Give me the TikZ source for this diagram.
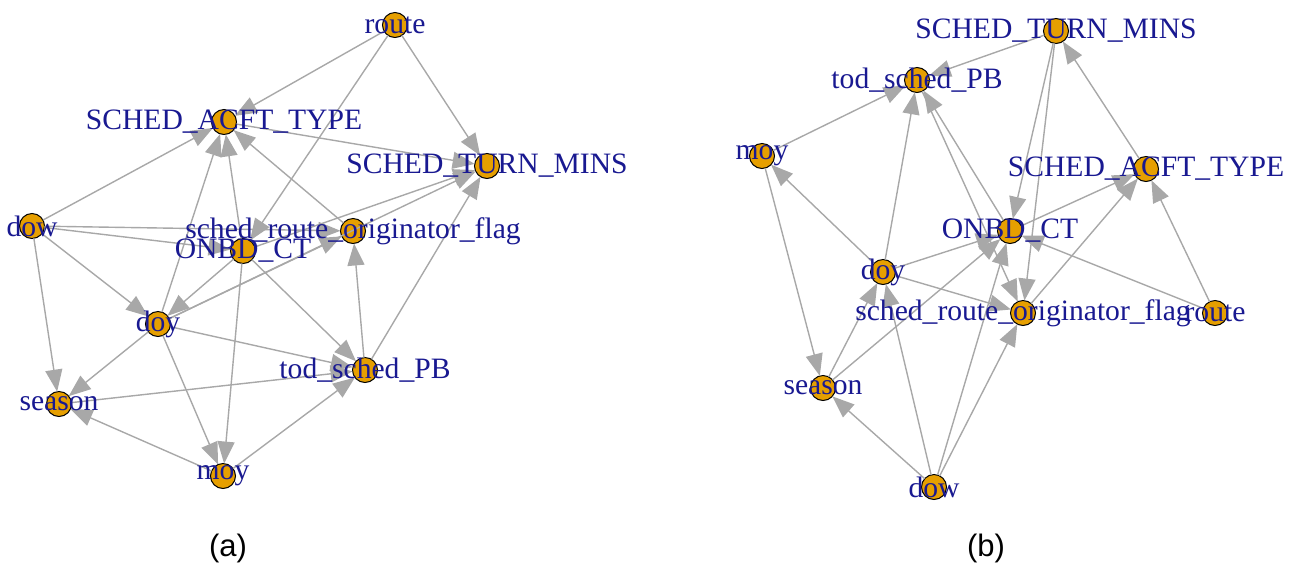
\documentclass[tikz,border=0pt]{standalone}
\usepackage{fontspec}
\setmainfont{Liberation Serif}
\newfontfamily\capfont{Liberation Sans}
\usetikzlibrary{arrows.meta}

\definecolor{vfill}{RGB}{230,159,0}
\definecolor{vlabel}{RGB}{25,25,145}
\definecolor{egray}{RGB}{168,168,168}

\begin{document}
\begin{tikzpicture}[x=0.5pt, y=-0.5pt,
  vertex/.style={
    circle,
    draw=black,
    fill=vfill,
    line width=0.5pt,
    minimum size=12.5pt,
    inner sep=0pt,
    outer sep=0pt
  },
  lbl/.style={text=vlabel, font=\fontsize{14.8}{16}\selectfont, inner sep=0pt},
  edge/.style={-{Triangle[length=11pt, width=8.5pt]}, draw=egray, line width=0.7pt},
  caption/.style={font=\capfont\fontsize{15.5}{18}\selectfont}
  ]

\useasboundingbox (0,0) rectangle (1308,580);

% Network (a)
\node[vertex] (a-route) at (395,25) {};
\node[vertex] (a-sat) at (224,122) {};
\node[vertex] (a-stm) at (487,166) {};
\node[vertex] (a-dow) at (32,226) {};
\node[vertex] (a-sched) at (353,231) {};
\node[vertex] (a-onbd) at (243,251) {};
\node[vertex] (a-doy) at (158,324) {};
\node[vertex] (a-tod) at (365,370) {};
\node[vertex] (a-season) at (59,404) {};
\node[vertex] (a-moy) at (223,476) {};

% Network (b)
\node[vertex] (b-stm) at (1056,31) {};
\node[vertex] (b-tod) at (917,80) {};
\node[vertex] (b-moy) at (762,156) {};
\node[vertex] (b-sat) at (1146,169) {};
\node[vertex] (b-onbd) at (1010,231) {};
\node[vertex] (b-doy) at (883,272) {};
\node[vertex] (b-sched) at (1023,313) {};
\node[vertex] (b-route) at (1215,313) {};
\node[vertex] (b-season) at (823,388) {};
\node[vertex] (b-dow) at (934,487) {};

% Arcs (a)
\draw[edge] (a-route) -- (a-sat);
\draw[edge] (a-route) -- (a-stm);
\draw[edge] (a-route) -- (a-onbd);
\draw[edge] (a-dow) -- (a-sat);
\draw[edge] (a-dow) -- (a-sched);
\draw[edge] (a-dow) -- (a-onbd);
\draw[edge] (a-dow) -- (a-doy);
\draw[edge] (a-dow) -- (a-season);
\draw[edge] (a-sat) -- (a-stm);
\draw[edge] (a-sched) -- (a-sat);
\draw[edge] (a-onbd) -- (a-sat);
\draw[edge] (a-doy) -- (a-sat);
\draw[edge] (a-onbd) -- (a-stm);
\draw[edge] (a-doy) -- (a-stm);
\draw[edge] (a-doy) -- (a-sched);
\draw[edge] (a-onbd) -- (a-doy);
\draw[edge] (a-onbd) -- (a-moy);
\draw[edge] (a-onbd) -- (a-tod);
\draw[edge] (a-doy) -- (a-tod);
\draw[edge] (a-doy) -- (a-season);
\draw[edge] (a-doy) -- (a-moy);
\draw[edge] (a-moy) -- (a-season);
\draw[edge] (a-moy) -- (a-tod);
\draw[edge] (a-season) -- (a-tod);
\draw[edge] (a-tod) -- (a-sched);
\draw[edge] (a-tod) -- (a-stm);

% Arcs (b)
\draw[edge] (b-stm) -- (b-tod);
\draw[edge] (b-stm) -- (b-onbd);
\draw[edge] (b-stm) -- (b-sched);
\draw[edge] (b-sat) -- (b-stm);
\draw[edge] (b-moy) -- (b-tod);
\draw[edge] (b-doy) -- (b-tod);
\draw[edge] (b-onbd) -- (b-tod);
\draw[edge] (b-tod) -- (b-sched);
\draw[edge] (b-doy) -- (b-moy);
\draw[edge] (b-moy) -- (b-season);
\draw[edge] (b-doy) -- (b-onbd);
\draw[edge] (b-doy) -- (b-sched);
\draw[edge] (b-onbd) -- (b-sat);
\draw[edge] (b-sched) -- (b-sat);
\draw[edge] (b-route) -- (b-sat);
\draw[edge] (b-route) -- (b-onbd);
\draw[edge] (b-season) -- (b-doy);
\draw[edge] (b-season) -- (b-onbd);
\draw[edge] (b-dow) -- (b-season);
\draw[edge] (b-dow) -- (b-doy);
\draw[edge] (b-dow) -- (b-onbd);
\draw[edge] (b-dow) -- (b-sched);

% Labels on top
\node[lbl] (a-route-l) at (a-route) {route};
\node[lbl] (a-sat-l) at (a-sat) {SCHED\_ACFT\_TYPE};
\node[lbl] (a-stm-l) at (a-stm) {SCHED\_TURN\_MINS};
\node[lbl] (a-dow-l) at (a-dow) {dow};
\node[lbl] (a-sched-l) at (a-sched) {sched\_route\_originator\_flag};
\node[lbl] (a-onbd-l) at (a-onbd) {ONBD\_CT};
\node[lbl] (a-doy-l) at (a-doy) {doy};
\node[lbl] (a-tod-l) at (a-tod) {tod\_sched\_PB};
\node[lbl] (a-season-l) at (a-season) {season};
\node[lbl] (a-moy-l) at (a-moy) {moy};

\node[lbl] (b-stm-l) at (b-stm) {SCHED\_TURN\_MINS};
\node[lbl] (b-tod-l) at (b-tod) {tod\_sched\_PB};
\node[lbl] (b-moy-l) at (b-moy) {moy};
\node[lbl] (b-sat-l) at (b-sat) {SCHED\_ACFT\_TYPE};
\node[lbl] (b-onbd-l) at (b-onbd) {ONBD\_CT};
\node[lbl] (b-doy-l) at (b-doy) {doy};
\node[lbl] (b-sched-l) at (b-sched) {sched\_route\_originator\_flag};
\node[lbl] (b-route-l) at (b-route) {route};
\node[lbl] (b-season-l) at (b-season) {season};
\node[lbl] (b-dow-l) at (b-dow) {dow};

% Captions
\node[caption] (cap-a) at (228,548) {(a)};
\node[caption] (cap-b) at (986,548) {(b)};

\end{tikzpicture}
\end{document}
